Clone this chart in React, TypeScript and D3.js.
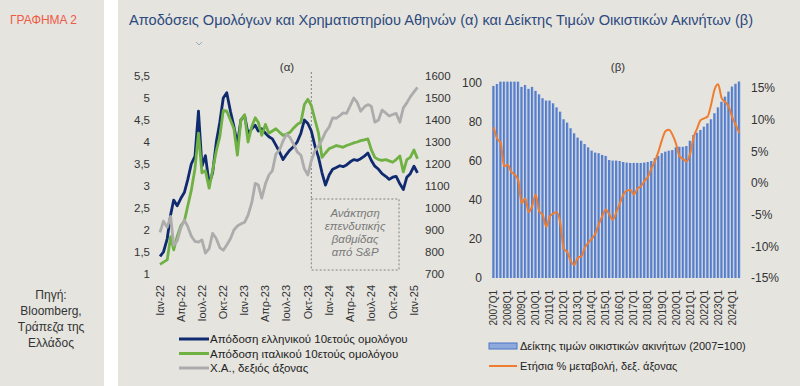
import { useEffect, useRef } from "react";
import * as d3 from "d3";

const WIDTH = 800;
const HEIGHT = 386;

// (α) half-monthly readings, 1 Jan 2022 .. 16 Jan 2025
const greekYield = [
  1.4, 1.5, 1.8, 2.35, 2.68, 2.55, 2.72, 2.85, 3.15, 3.5, 3.68, 4.7, 3.45, 3.69, 3.05, 3.3,
  4.0, 4.45, 5.0, 5.12, 4.7, 4.35, 3.95, 4.5, 4.6, 4.18, 4.3, 4.38, 4.25, 4.3, 4.2, 4.12,
  4.07, 3.93, 3.77, 3.6, 3.72, 3.82, 3.9, 4.0, 4.2, 4.5, 4.42, 4.25, 3.9, 3.65, 3.3, 3.02,
  3.25, 3.38, 3.42, 3.46, 3.44, 3.48, 3.55, 3.6, 3.58, 3.62, 3.68, 3.75, 3.58, 3.45, 3.38, 3.28,
  3.22, 3.15, 3.2, 3.22, 3.05, 2.92, 3.2, 3.28, 3.45, 3.3,
];
const italyYield = [
  1.22, 1.27, 1.32, 1.85, 1.55, 1.85, 2.1, 2.2, 2.55, 2.9, 3.4, 4.2, 3.3, 3.35, 2.95, 3.35,
  3.8, 4.12, 4.72, 4.7, 4.5, 4.3, 3.7, 4.5, 4.62, 4.0, 4.35, 4.55, 4.45, 4.15, 4.4, 4.2,
  4.25, 4.3, 4.22, 4.15, 4.18, 4.22, 4.32, 4.4, 4.45, 4.85, 4.97, 4.83, 4.5, 4.2, 3.65, 3.75,
  3.85, 3.88, 3.92, 3.9, 3.88, 3.92, 3.95, 3.98, 4.0, 4.03, 4.05, 4.07, 3.82, 3.65, 3.6, 3.58,
  3.6, 3.57, 3.54, 3.6, 3.68, 3.32, 3.6, 3.65, 3.82, 3.62,
];
const athexIndex = [
  889, 940, 912, 962, 830, 850, 910, 945, 915, 873, 848, 845, 855, 795, 815, 885,
  860, 820, 808, 832, 860, 900, 918, 928, 935, 968, 1024, 1112, 1105, 1045, 1110, 1150,
  1170, 1245, 1265, 1305, 1335, 1320, 1290, 1255, 1240, 1178, 1150, 1215, 1262, 1280, 1310, 1345,
  1368, 1410, 1408, 1420, 1432, 1430, 1465, 1500, 1480, 1440, 1460, 1470, 1462, 1390, 1400, 1445,
  1432, 1418, 1425, 1430, 1390, 1455, 1478, 1505, 1528, 1548,
];
const monthTickLabels = [
  "Ιαν-22", "Απρ-22", "Ιουλ-22", "Οκτ-22", "Ιαν-23", "Απρ-23", "Ιουλ-23",
  "Οκτ-23", "Ιαν-24", "Απρ-24", "Ιουλ-24", "Οκτ-24", "Ιαν-25",
];
const yieldTicks = [1, 1.5, 2, 2.5, 3, 3.5, 4, 4.5, 5, 5.5];
const athexTicks = [700, 800, 900, 1000, 1100, 1200, 1300, 1400, 1500, 1600];
const leftLegend = [
  "Απόδοση ελληνικού 10ετούς ομολόγου",
  "Απόδοση ιταλικού 10ετούς ομολόγου",
  "Χ.Α., δεξιός άξονας",
];
const noteLines = ["Ανάκτηση", "επενδυτικής", "βαθμίδας", "από S&P"];

// (β) quarterly, 2007Q1 .. 2024Q3
const housePriceIndex = [
  98.5, 99.5, 100.7, 100.7, 100.7, 100.7, 100.7, 100.7,
  98, 99, 97, 98, 96, 94.2, 92.2, 91,
  91, 89.6, 87.5, 85.3, 81.4, 79.7, 76.8, 74.2,
  72, 70.4, 68.7, 67, 65.3, 64.3, 64, 63.1,
  62.6, 60.5, 60.2, 60.2, 60, 59.5, 59.2, 59,
  59, 59, 59, 59.2, 59.5, 60, 61.4, 62.6,
  64, 64.8, 65.3, 65.6, 67, 67.3, 67.3, 67.7,
  70.4, 73.3, 74.5, 75.9, 77.6, 79.3, 81.4, 84.5,
  87.5, 90.4, 93, 95.6, 98.2, 99.6, 100.8,
];
const housePriceChange = [
  8.8, 7.0, 6.4, 2.6, 2.9, 1.8, 1.3, 0.5,
  -3.2, -2.4, -4.6, -3.6, -1.8, -4.5, -5.0, -6.9,
  -5.3, -4.8, -4.6, -6.3, -10.4, -10.9, -12.3, -12.9,
  -11.8, -11.6, -10.2, -9.4, -8.8, -8.0, -6.5, -5.2,
  -4.2, -5.0, -5.8, -4.6, -3.2, -1.8, -1.2, -1.1,
  -1.8, -0.9, -0.5, 0.3, 1.0, 2.3, 3.5, 5.0,
  6.8, 8.2, 8.4, 7.6, 6.2, 4.2, 3.8, 3.4,
  4.6, 7.2, 8.6, 9.9, 10.2, 10.5, 12.4, 14.8,
  15.6, 13.4, 12.8, 12.1, 10.4, 9.2, 7.9,
];
const indexTicks = [0, 20, 40, 60, 80, 100];
const changeTicks = [-15, -10, -5, 0, 5, 10, 15];
const rightLegend = [
  "Δείκτης τιμών οικιστικών ακινήτων (2007=100)",
  "Ετήσια % μεταβολή, δεξ. άξονας",
];
const sourceLines = ["Πηγή:", "Bloomberg,", "Τράπεζα της", "Ελλάδος"];

const FONT = "'Liberation Sans', Arial, sans-serif";
const BG = "#e5e4df";
const NAVY = "#0f2a6e";
const GREEN = "#6fb142";
const GREY = "#acacac";
const ORANGE = "#ee7d31";
const TEXT = "#333";

function App() {
  const svgRef = useRef(null);

  useEffect(() => {
    const svg = d3.select(svgRef.current);
    svg.selectAll("*").remove();

    const defs = svg.append("defs");
    const grad = defs.append("linearGradient").attr("id", "barGrad").attr("x1", 0).attr("x2", 1).attr("y1", 0).attr("y2", 0);
    grad.append("stop").attr("offset", "0%").attr("stop-color", "#4a74c6");
    grad.append("stop").attr("offset", "55%").attr("stop-color", "#5b82cd");
    grad.append("stop").attr("offset", "100%").attr("stop-color", "#a6bce4");

    // background panels
    svg.append("rect").attr("width", WIDTH).attr("height", HEIGHT).attr("fill", BG);
    svg.append("rect").attr("x", 104).attr("width", 14).attr("height", HEIGHT).attr("fill", "#fff");

    svg.append("text").attr("x", 10).attr("y", 24).attr("font-family", FONT).attr("font-size", 12)
      .attr("fill", "#ee5a44").text("ΓΡΑΦΗΜΑ 2");
    svg.append("text").attr("x", 129).attr("y", 25).attr("font-family", FONT).attr("font-size", 14)
      .attr("fill", "#2d4a7e").attr("textLength", 624).attr("lengthAdjust", "spacingAndGlyphs")
      .text("Αποδόσεις Ομολόγων και Χρηματιστηρίου Αθηνών (α) και Δείκτης Τιμών Οικιστικών Ακινήτων (β)");
    svg.append("path").attr("d", "M196,42 L199,45 L202,42").attr("fill", "none")
      .attr("stroke", "#9aaabd").attr("stroke-width", 1);

    const src = svg.append("text").attr("font-family", FONT).attr("font-size", 12).attr("fill", TEXT)
      .attr("text-anchor", "middle");
    sourceLines.forEach((s, i) => {
      src.append("tspan").attr("x", 51).attr("y", 299 + i * 16).text(s);
    });

    // ---------- panel (α) ----------
    const dates = greekYield.map((_, i) => new Date(2022, Math.floor(i / 2), i % 2 ? 16 : 1));
    const x = d3.scaleTime().domain([new Date(2022, 0, 1), new Date(2025, 0, 1)]).range([160, 414]);
    const yL = d3.scaleLinear().domain([1, 5.5]).range([274, 76]);
    const yR = d3.scaleLinear().domain([700, 1600]).range([274, 76]);

    const a = svg.append("g").attr("font-family", FONT).attr("fill", TEXT);

    a.selectAll(".yl").data(yieldTicks).enter().append("text")
      .attr("x", 150).attr("y", (d) => yL(d)).attr("dy", "0.35em").attr("text-anchor", "end")
      .attr("font-size", 11.5).text((d) => String(d).replace(".", ","));
    a.selectAll(".yr").data(athexTicks).enter().append("text")
      .attr("x", 425).attr("y", (d) => yR(d)).attr("dy", "0.35em").attr("text-anchor", "start")
      .attr("font-size", 11.5).text((d) => d);

    const qDates = d3.timeMonth.every(3).range(new Date(2022, 0, 1), new Date(2025, 1, 1));
    a.selectAll(".xl").data(qDates).enter().append("text")
      .attr("transform", (d) => `translate(${x(d)},285) rotate(-90)`)
      .attr("dy", "0.35em").attr("text-anchor", "end").attr("font-size", 11)
      .text((d, i) => monthTickLabels[i]);

    a.append("text").attr("x", 287).attr("y", 71).attr("text-anchor", "middle").attr("font-size", 11.5).text("(α)");

    // S&P note
    const upgrade = new Date(2023, 9, 16);
    const ux = x(upgrade);
    a.append("line").attr("x1", ux).attr("x2", ux).attr("y1", 72).attr("y2", 199)
      .attr("stroke", "#808080").attr("stroke-width", 1).attr("stroke-dasharray", "2,2");
    a.append("rect").attr("x", ux).attr("y", 199).attr("width", 399 - ux).attr("height", 71)
      .attr("fill", "none").attr("stroke", "#808080").attr("stroke-width", 1).attr("stroke-dasharray", "2,2");
    const note = a.append("text").attr("text-anchor", "middle").attr("font-size", 11.5)
      .attr("font-style", "italic").attr("fill", "#7a7a7a");
    noteLines.forEach((s, i) => {
      note.append("tspan").attr("x", (ux + 399) / 2).attr("y", 217 + i * 13).text(s);
    });

    const lineL = d3.line().x((d, i) => x(dates[i])).y((d) => yL(d));
    const lineR = d3.line().x((d, i) => x(dates[i])).y((d) => yR(d));
    a.append("path").datum(greekYield).attr("d", lineL).attr("fill", "none").attr("stroke", NAVY)
      .attr("stroke-width", 2.8).attr("stroke-linejoin", "round");
    a.append("path").datum(italyYield).attr("d", lineL).attr("fill", "none").attr("stroke", GREEN)
      .attr("stroke-width", 2.8).attr("stroke-linejoin", "round");
    a.append("path").datum(athexIndex).attr("d", lineR).attr("fill", "none").attr("stroke", GREY)
      .attr("stroke-width", 2.8).attr("stroke-linejoin", "round");

    const legColors = [NAVY, GREEN, GREY];
    leftLegend.forEach((s, i) => {
      const ly = 339 + i * 14.5;
      a.append("line").attr("x1", 179).attr("x2", 209).attr("y1", ly).attr("y2", ly)
        .attr("stroke", legColors[i]).attr("stroke-width", 3);
      a.append("text").attr("x", 210).attr("y", ly).attr("dy", "0.35em").attr("font-size", 11.5)
        .attr("fill", "#222").text(s);
    });

    // ---------- panel (β) ----------
    const quarters = housePriceIndex.map((_, i) => `${2007 + Math.floor(i / 4)}Q${(i % 4) + 1}`);
    const xb = d3.scaleBand().domain(quarters).range([492.3, 740.5]).paddingInner(0.25);
    const yB = d3.scaleLinear().domain([0, 100]).range([278, 83]);
    const yP = d3.scaleLinear().domain([-15, 15]).range([278, 88]);

    const b = svg.append("g").attr("font-family", FONT).attr("fill", TEXT);

    b.selectAll(".bar").data(housePriceIndex).enter().append("rect")
      .attr("x", (d, i) => xb(quarters[i])).attr("width", xb.bandwidth())
      .attr("y", (d) => yB(d)).attr("height", (d) => yB(0) - yB(d)).attr("fill", "url(#barGrad)");

    const lineP = d3.line().x((d, i) => xb(quarters[i]) + xb.bandwidth() / 2).y((d) => yP(d))
      .curve(d3.curveMonotoneX);
    b.append("path").datum(housePriceChange).attr("d", lineP).attr("fill", "none").attr("stroke", ORANGE)
      .attr("stroke-width", 2).attr("stroke-linejoin", "round");

    b.selectAll(".bl").data(indexTicks).enter().append("text")
      .attr("x", 482).attr("y", (d) => yB(d)).attr("dy", "0.35em").attr("text-anchor", "end")
      .attr("font-size", 12).text((d) => d);
    b.selectAll(".br").data(changeTicks).enter().append("text")
      .attr("x", 751).attr("y", (d) => yP(d)).attr("dy", "0.35em").attr("text-anchor", "start")
      .attr("font-size", 12).text((d) => `${d}%`);

    const q1 = quarters.filter((q) => q.endsWith("Q1"));
    b.selectAll(".bx").data(q1).enter().append("text")
      .attr("transform", (d) => `translate(${xb(d) + xb.bandwidth() / 2},290) rotate(-90)`)
      .attr("dy", "0.35em").attr("text-anchor", "end").attr("font-size", 10).text((d) => d);

    b.append("text").attr("x", 618).attr("y", 71).attr("text-anchor", "middle").attr("font-size", 11.5).text("(β)");

    b.append("rect").attr("x", 489).attr("y", 343).attr("width", 28).attr("height", 6)
      .attr("fill", "#8eaadc").attr("stroke", "#4a74c6").attr("stroke-width", 1);
    b.append("text").attr("x", 520).attr("y", 346).attr("dy", "0.35em").attr("font-size", 11)
      .attr("fill", "#222").text(rightLegend[0]);
    b.append("line").attr("x1", 489).attr("x2", 517).attr("y1", 366).attr("y2", 366)
      .attr("stroke", ORANGE).attr("stroke-width", 2);
    b.append("text").attr("x", 520).attr("y", 366).attr("dy", "0.35em").attr("font-size", 11)
      .attr("fill", "#222").text(rightLegend[1]);
  }, []);

  return (
    <svg
      ref={svgRef}
      width={WIDTH}
      height={HEIGHT}
      style={{ position: "fixed", left: 0, top: 0, display: "block" }}
    />
  );
}

export default App;
